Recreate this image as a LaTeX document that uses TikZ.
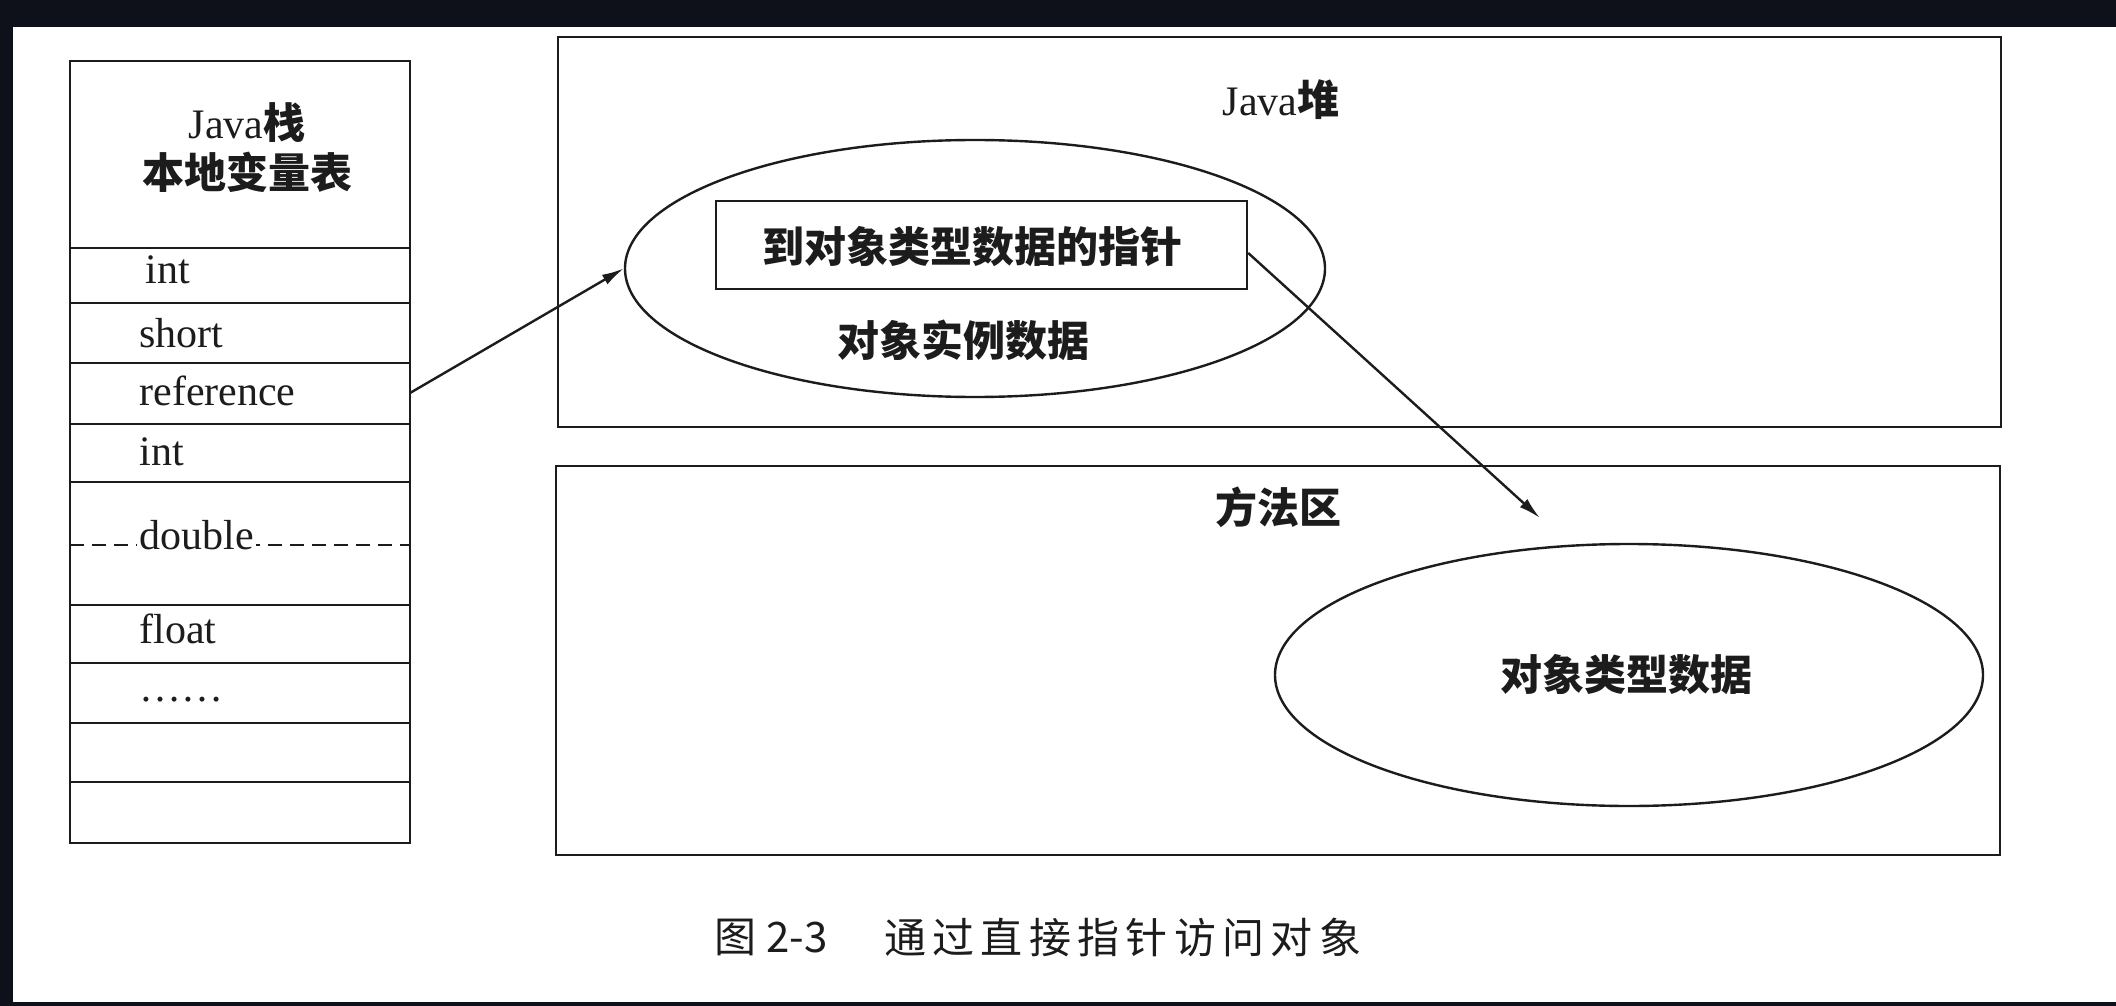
\documentclass[tikz,border=0pt]{standalone}
\usepackage{fontspec}
\setmainfont{Liberation Serif}
\newfontfamily\cjk{Noto Sans CJK SC}
\newfontfamily\cjkcap[LetterSpace=15]{Noto Sans CJK SC}
\usetikzlibrary{shapes.geometric,arrows.meta}
\definecolor{framec}{RGB}{14,17,26}
\definecolor{ink}{RGB}{28,28,28}
\tikzset{
  ln/.style={draw=ink, line width=1.2pt},
  lbl/.style={font=\fontsize{21}{25}\selectfont, text=ink, inner sep=0pt},
  cj/.style={font=\cjk\bfseries\fontsize{21}{25}\selectfont, text=ink, inner sep=0pt},
  rowlbl/.style={lbl, anchor=base west},
  arr/.style={ln, -{Latex[length=11pt,width=5.5pt]}},
  oval/.style={ellipse, ln, inner sep=0pt},
  area/.style={rectangle, ln, inner sep=0pt},
  capf/.style={text=ink, inner sep=0pt, anchor=west},
}
\begin{document}
\begin{tikzpicture}[x=0.5pt,y=-0.5pt]
\useasboundingbox (0,0) rectangle (2116,1006);
\fill[framec] (0,0) rectangle (2116,1006);
\fill[white] (13,27) rectangle (2116,1002);

% Java stack
\draw[ln] (70,61) rectangle (410,843);
\foreach \yy in {248,303,363,424,482,605,663,723,782}
  \draw[ln] (70,\yy) -- (410,\yy);
\draw[ln, dash pattern=on 7pt off 4pt] (70,545) -- (410,545);
\node[lbl] (stk1) at (247,123) {Java{\cjk\bfseries 栈}};
\node[cj] (stk2) at (247,172) {本地变量表};
\node[rowlbl] (r1) at (145,283) {int};
\node[rowlbl] (r2) at (139,347) {short};
\node[rowlbl] (r3) at (139,405) {reference};
\node[rowlbl] (r4) at (139,465) {int};
\node[rowlbl, fill=white, inner xsep=1pt] (r5) at (137,549) {double};
\node[rowlbl] (r6) at (139,643) {float};
\node[rowlbl] (r7) at (139,701) {……};
\coordinate (refR) at (410,393);

% Java heap
\node[area, minimum width=721.5pt, minimum height=195pt] (heap) at (1279.5,232) {};
\node[lbl] (heapT) at (1281,100) {Java{\cjk\bfseries 堆}};
\node[oval, minimum width=350pt, minimum height=128.5pt] (inst) at (975,268.5) {};
\node[area, minimum width=265.5pt, minimum height=44pt] (ptr) at (981.5,245) {};
\node[cj] (ptrT) at (972,247) {到对象类型数据的指针};
\node[cj] (instT) at (963,340) {对象实例数据};

% Method area
\node[area, minimum width=722pt, minimum height=194.5pt] (meth) at (1278,660.5) {};
\node[cj] (methT) at (1278,507) {方法区};
\node[oval, minimum width=354pt, minimum height=131pt] (cls) at (1629,675) {};
\node[cj] (clsT) at (1626,675) {对象类型数据};
\coordinate (tip) at (1540,518);

% connectors
\draw[arr] (refR) -- (inst.west);
\draw[arr] ([yshift=-4pt]ptr.east) -- (tip);

% caption
\node[capf, font=\cjk\fontsize{21}{25}\selectfont] (fig) at (714,937) {图\hspace{5pt}2-3};
\node[capf, font=\cjkcap\fontsize{21}{25}\selectfont] (cap) at (884,937) {通过直接指针访问对象};
\end{tikzpicture}
\end{document}
